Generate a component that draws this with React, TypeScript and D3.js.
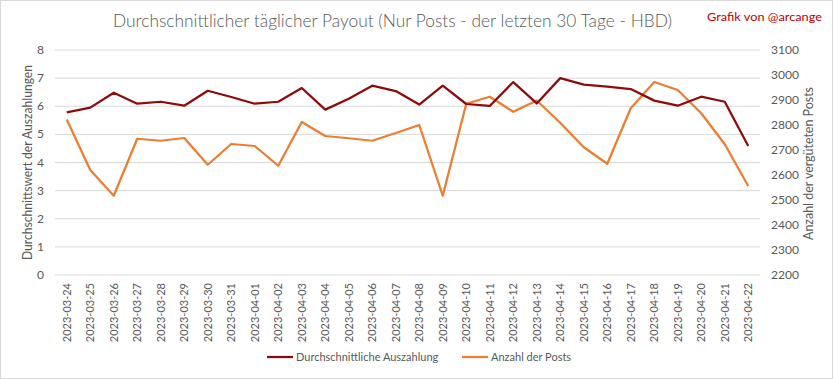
import React from "react";
import * as d3 from "d3";

const dates = [
  "2023-03-24","2023-03-25","2023-03-26","2023-03-27","2023-03-28","2023-03-29","2023-03-30","2023-03-31",
  "2023-04-01","2023-04-02","2023-04-03","2023-04-04","2023-04-05","2023-04-06","2023-04-07","2023-04-08",
  "2023-04-09","2023-04-10","2023-04-11","2023-04-12","2023-04-13","2023-04-14","2023-04-15","2023-04-16",
  "2023-04-17","2023-04-18","2023-04-19","2023-04-20","2023-04-21","2023-04-22",
];
const avgPayout = [
  5.78, 5.95, 6.48, 6.09, 6.16, 6.02, 6.55, 6.33, 6.09, 6.16,
  6.65, 5.88, 6.27, 6.73, 6.54, 6.06, 6.73, 6.08, 6.01, 6.86,
  6.10, 7.00, 6.77, 6.70, 6.61, 6.20, 6.02, 6.34, 6.16, 4.59,
];
const postCount = [
  2822, 2620, 2517, 2745, 2737, 2748, 2641, 2724, 2716, 2637,
  2812, 2756, 2747, 2737, 2768, 2800, 2517, 2885, 2913, 2853,
  2898, 2809, 2711, 2645, 2867, 2972, 2940, 2847, 2723, 2556,
];
const leftTicks = [0, 1, 2, 3, 4, 5, 6, 7, 8];
const rightTicks = [2200, 2300, 2400, 2500, 2600, 2700, 2800, 2900, 3000, 3100];

const W = 833, H = 379;
const plot = { left: 55, right: 760, top: 50, bottom: 275 };
const RED = "#8E0B0B";
const ORANGE = "#ED7D31";
const TXT = "#595959";
const FONT = "Lato, 'Open Sans', sans-serif";

export default function App() {
  const x = d3.scaleBand<string>().domain(dates).range([plot.left, plot.right]);
  const cx = (d: string) => (x(d) as number) + x.bandwidth() / 2;
  const yL = d3.scaleLinear().domain([0, 8]).range([plot.bottom, plot.top]);
  const yR = d3.scaleLinear().domain([2200, 3100]).range([plot.bottom, plot.top]);

  const redLine = d3.line<number>().x((_, i) => cx(dates[i])).y((v) => yL(v));
  const orangeLine = d3.line<number>().x((_, i) => cx(dates[i])).y((v) => yR(v));

  return (
    <svg width={W} height={H} style={{ position: "fixed", left: 0, top: 0 }} fontFamily={FONT}>
      <rect x={0.5} y={0.5} width={W - 1} height={H - 1} fill="#fff" stroke="#d9d9d9" />
      <text x={113} y={27} fontSize={17.5} fontWeight={300} fill={TXT} textLength={559} lengthAdjust="spacingAndGlyphs">
        Durchschnittlicher täglicher Payout (Nur Posts - der letzten 30 Tage - HBD)
      </text>
      <text x={707} y={21} fontSize={12} fill="#C00000" textLength={115} lengthAdjust="spacingAndGlyphs">
        Grafik von @arcange
      </text>

      {leftTicks.map((t) => (
        <line key={t} x1={plot.left} x2={plot.right} y1={yL(t)} y2={yL(t)} stroke="#d9d9d9" strokeWidth={1} />
      ))}
      {leftTicks.map((t) => (
        <text key={"l" + t} x={44} y={yL(t) + 4} textAnchor="end" fontSize={12} fill={TXT}>{t}</text>
      ))}
      {rightTicks.map((t) => (
        <text key={"r" + t} x={771} y={yR(t) + 4} textAnchor="start" fontSize={12} fill={TXT}>{t}</text>
      ))}
      {dates.map((d) => (
        <text key={d} transform={`translate(${cx(d) + 4},${283}) rotate(-90)`} textAnchor="end" fontSize={11} fill={TXT}>{d}</text>
      ))}

      <text transform={`translate(32,260) rotate(-90)`} fontSize={12.5} fill={TXT} textLength={195} lengthAdjust="spacingAndGlyphs">
        Durchschnittswert der Auszahlungen
      </text>
      <text transform={`translate(813,240) rotate(-90)`} fontSize={12.5} fill={TXT} textLength={153} lengthAdjust="spacingAndGlyphs">
        Anzahl der vergüteten  Posts
      </text>

      <path d={orangeLine(postCount) || ""} fill="none" stroke={ORANGE} strokeWidth={2.25} strokeLinejoin="round" />
      <path d={redLine(avgPayout) || ""} fill="none" stroke={RED} strokeWidth={2.25} strokeLinejoin="round" />

      <line x1={267} x2={293} y1={357} y2={357} stroke={RED} strokeWidth={2.25} />
      <text x={296} y={361} fontSize={11} fill={TXT}>Durchschnittliche Auszahlung</text>
      <line x1={462} x2={488} y1={357} y2={357} stroke={ORANGE} strokeWidth={2.25} />
      <text x={491} y={361} fontSize={11} fill={TXT}>Anzahl der Posts</text>
    </svg>
  );
}
